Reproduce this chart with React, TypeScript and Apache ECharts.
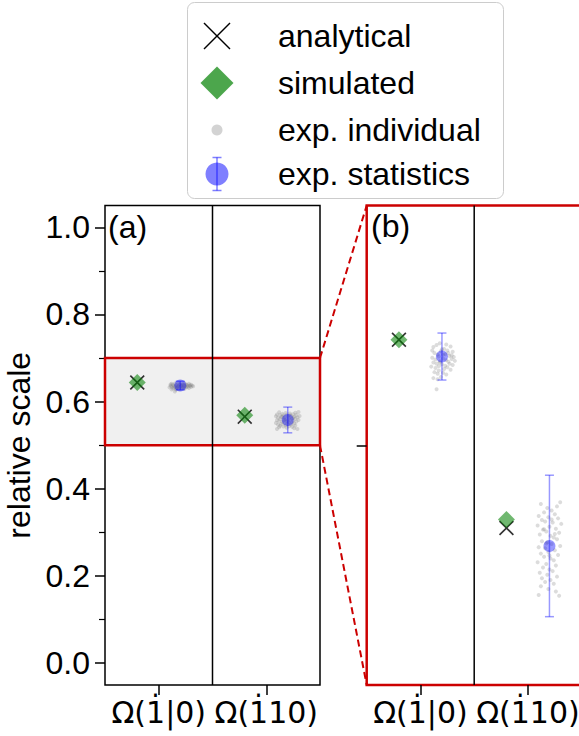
import React, { useEffect, useRef } from "react";
import * as echarts from "echarts";

// ---------- data ----------
const categories = ["\u03A9(1\u0307|0)", "\u03A9(1\u030710)"];
const categoryPos = [0, 1];
const markerOffset = 0.2;
const analytical = [0.644, 0.5655];
const simulated = [0.644, 0.569];
const statMean = [0.637, 0.558];
const statErr = [0.0098, 0.0295];
const yTicks = [0, 0.2, 0.4, 0.6, 0.8, 1.0];
const yMinorTicks = [0.1, 0.3, 0.5, 0.7, 0.9];
const fullRange = [-0.05, 1.05];
const zoomRange = [0.5, 0.7];
const zoomTicks = [0.6];
const xRange = [-0.5, 1.5];

const expIndividualLeft: number[][] = [
  [0.12, 0.641], [0.15, 0.6418], [0.18, 0.6425], [0.22, 0.6402], [0.25, 0.6395],
  [0.28, 0.6412], [0.30, 0.639], [0.13, 0.6385], [0.16, 0.6378], [0.19, 0.6392],
  [0.23, 0.638], [0.27, 0.6372], [0.31, 0.6368], [0.11, 0.6365], [0.14, 0.6358],
  [0.17, 0.637], [0.21, 0.6362], [0.24, 0.6355], [0.26, 0.6348], [0.29, 0.636],
  [0.32, 0.6352], [0.12, 0.6345], [0.15, 0.634], [0.18, 0.635], [0.20, 0.6338],
  [0.23, 0.6332], [0.27, 0.634], [0.30, 0.6335], [0.10, 0.6328], [0.14, 0.6322],
  [0.17, 0.633], [0.22, 0.6318], [0.25, 0.6325], [0.28, 0.6315], [0.13, 0.6305],
  [0.16, 0.6298], [0.21, 0.6302], [0.24, 0.6295], [0.19, 0.6285], [0.12, 0.628],
  [0.16, 0.6275], [0.15, 0.6234], [0.20, 0.64], [0.26, 0.6385], [0.18, 0.6345],
  [0.29, 0.6375], [0.11, 0.6395], [0.24, 0.642], [0.21, 0.6378], [0.17, 0.6312],
];
const expIndividualRight: number[][] = [
  [1.12, 0.5755], [1.30, 0.5762], [1.27, 0.5745], [1.18, 0.5738], [1.22, 0.5728],
  [1.15, 0.572], [1.25, 0.5712], [1.10, 0.5705], [1.19, 0.57], [1.28, 0.5695],
  [1.13, 0.5688], [1.16, 0.5682], [1.23, 0.5678], [1.31, 0.5672], [1.09, 0.5665],
  [1.20, 0.566], [1.26, 0.5652], [1.14, 0.5648], [1.17, 0.564], [1.29, 0.5635],
  [1.11, 0.5628], [1.21, 0.5622], [1.24, 0.5615], [1.27, 0.5608], [1.13, 0.56],
  [1.18, 0.5595], [1.22, 0.5588], [1.30, 0.558], [1.10, 0.5575], [1.16, 0.557],
  [1.25, 0.5562], [1.19, 0.5555], [1.12, 0.5548], [1.28, 0.5542], [1.15, 0.5535],
  [1.21, 0.5528], [1.24, 0.552], [1.09, 0.5512], [1.17, 0.5505], [1.26, 0.5498],
  [1.14, 0.549], [1.20, 0.5482], [1.23, 0.5475], [1.11, 0.5468], [1.18, 0.546],
  [1.27, 0.5452], [1.13, 0.5445], [1.21, 0.5438], [1.16, 0.543], [1.24, 0.5422],
  [1.12, 0.5412], [1.19, 0.54], [1.26, 0.539], [1.10, 0.5375], [1.29, 0.5372],
  [1.15, 0.565], [1.22, 0.569], [1.17, 0.559], [1.25, 0.563], [1.20, 0.554],
];

// ---------- styles ----------
const RED = "#cc0000";
const SANS = "Liberation Sans, Arial, sans-serif";
const XPATH =
  "path://M0,7.8L7.8,0L50,42.2L92.2,0L100,7.8L57.8,50L100,92.2L92.2,100L50,57.8L7.8,100L0,92.2L42.2,50Z";

export default function App() {
  const ref = useRef<HTMLDivElement>(null);
  useEffect(() => {
    document.body.style.margin = "0";
    const chart = echarts.init(ref.current!, undefined, { renderer: "svg" });

    const xAxisBase = (gi: number) => ({
      type: "value",
      gridIndex: gi,
      position: "bottom",
      min: xRange[0],
      max: xRange[1],
      axisLine: { show: false, onZero: false },
      splitLine: { show: false },
      axisTick: {
        show: true,
        customValues: categoryPos,
        length: 10,
        lineStyle: { color: "#000", width: 1.5 },
      },
      axisLabel: {
        customValues: categoryPos,
        formatter: (v: number) => categories[Math.round(v)],
        fontSize: 30,
        fontFamily: "DejaVu Sans",
        color: "#000",
        margin: 12,
      },
    });

    const seriesFor = (gi: number, yi: number, yr: number[]) => {
      const common = { xAxisIndex: gi, yAxisIndex: yi };
      const list: any[] = [];
      list.push({
        ...common,
        type: "line",
        data: [
          [0.5, yr[0]],
          [0.5, yr[1]],
        ],
        symbol: "none",
        lineStyle: { color: "#000", width: 1.5 },
        z: 2,
        silent: true,
      });
      list.push({
        ...common,
        name: "exp. individual",
        type: "scatter",
        data: [...expIndividualLeft, ...expIndividualRight],
        symbolSize: 4,
        itemStyle: { color: "rgba(128,128,128,0.35)" },
        z: 3,
      });
      list.push({
        ...common,
        type: "custom",
        data: categoryPos.map((c, i) => [c + markerOffset, statMean[i] - statErr[i], statMean[i] + statErr[i]]),
        encode: { x: 0, y: [1, 2] },
        z: 4,
        renderItem: (_p: any, api: any) => {
          const x = api.value(0);
          const p1 = api.coord([x, api.value(1)]);
          const p2 = api.coord([x, api.value(2)]);
          const cw = 4.5;
          const style = { stroke: "rgba(0,0,255,0.4)", lineWidth: 1.5 };
          return {
            type: "group",
            children: [
              { type: "line", shape: { x1: p1[0], y1: p1[1], x2: p2[0], y2: p2[1] }, style },
              { type: "line", shape: { x1: p1[0] - cw, y1: p1[1], x2: p1[0] + cw, y2: p1[1] }, style },
              { type: "line", shape: { x1: p2[0] - cw, y1: p2[1], x2: p2[0] + cw, y2: p2[1] }, style },
            ],
          };
        },
      });
      list.push({
        ...common,
        name: "exp. statistics",
        type: "scatter",
        data: categoryPos.map((c, i) => [c + markerOffset, statMean[i]]),
        symbolSize: 12,
        itemStyle: { color: "rgba(0,0,255,0.5)" },
        z: 5,
      });
      list.push({
        ...common,
        name: "analytical",
        type: "scatter",
        data: categoryPos.map((c, i) => [c - markerOffset, analytical[i]]),
        symbol: XPATH,
        symbolSize: 15,
        itemStyle: { color: "#000" },
        z: 6,
      });
      list.push({
        ...common,
        name: "simulated",
        type: "scatter",
        data: categoryPos.map((c, i) => [c - markerOffset, simulated[i]]),
        symbol: "diamond",
        symbolSize: [17, 17],
        itemStyle: { color: "rgba(0,128,0,0.7)" },
        z: 7,
      });
      return list;
    };

    const yAxisCommon = {
      type: "value",
      position: "left",
      axisLine: { show: false, onZero: false },
      splitLine: { show: false },
    };

    const option: any = {
      animation: false,
      grid: [
        {
          left: 105, top: 205.5, width: 215, height: 479.5,
          show: true, borderColor: "#000", borderWidth: 1.5,
          containLabel: false, outerBoundsMode: "none",
        },
        {
          left: 366.7, top: 205.5, width: 215, height: 479.5,
          show: true, borderColor: RED, borderWidth: 2.5,
          containLabel: false, outerBoundsMode: "none",
        },
      ],
      xAxis: [xAxisBase(0), xAxisBase(1)],
      yAxis: [
        {
          ...yAxisCommon,
          gridIndex: 0,
          min: fullRange[0],
          max: fullRange[1],
          axisTick: { show: true, customValues: yTicks, length: 10, lineStyle: { color: "#000", width: 1.5 } },
          axisLabel: {
            customValues: yTicks,
            formatter: (v: number) => v.toFixed(1),
            fontSize: 32,
            fontFamily: SANS,
            color: "#000",
            margin: 15,
          },
          name: "relative scale",
          nameLocation: "middle",
          nameGap: 70,
          nameTextStyle: { fontSize: 32, fontFamily: SANS, color: "#000" },
        },
        {
          ...yAxisCommon,
          gridIndex: 0,
          offset: 0,
          min: fullRange[0],
          max: fullRange[1],
          axisTick: { show: true, customValues: yMinorTicks, length: 6, lineStyle: { color: "#000", width: 1.2 } },
          axisLabel: { show: false },
        },
        {
          ...yAxisCommon,
          gridIndex: 1,
          min: zoomRange[0],
          max: zoomRange[1],
          axisTick: { show: true, customValues: zoomTicks, length: 10, lineStyle: { color: "#000", width: 1.5 } },
          axisLabel: { show: false },
        },
      ],
      series: [
        {
          type: "custom",
          xAxisIndex: 0,
          yAxisIndex: 0,
          data: [[xRange[0], zoomRange[0], xRange[1], zoomRange[1]]],
          encode: { x: [0, 2], y: [1, 3] },
          z: 1,
          silent: true,
          renderItem: (_p: any, api: any) => {
            const a = api.coord([api.value(0), api.value(3)]);
            const b = api.coord([api.value(2), api.value(1)]);
            return {
              type: "rect",
              shape: { x: a[0], y: a[1], width: b[0] - a[0], height: b[1] - a[1] },
              style: { fill: "#f0f0f0", stroke: RED, lineWidth: 2.5 },
            };
          },
        },
        ...seriesFor(0, 0, fullRange),
        ...seriesFor(1, 2, zoomRange),
      ],
    };
    chart.setOption(option);

    const aTop = chart.convertToPixel({ gridIndex: 0 }, [xRange[1], zoomRange[1]]) as number[];
    const aBot = chart.convertToPixel({ gridIndex: 0 }, [xRange[1], zoomRange[0]]) as number[];
    const bTop = chart.convertToPixel({ gridIndex: 1 }, [xRange[0], zoomRange[1]]) as number[];
    const bBot = chart.convertToPixel({ gridIndex: 1 }, [xRange[0], zoomRange[0]]) as number[];

    const dash = { stroke: RED, lineWidth: 2, lineDash: [7, 4] };
    const lx = 217;
    const tx = 278;
    const rows = [36, 83, 130, 174];
    const labels = ["analytical", "simulated", "exp. individual", "exp. statistics"];
    const txtStyle = (t: string) => ({ text: t, fontSize: 32, fontFamily: SANS, fill: "#000", verticalAlign: "middle", align: "left" });

    chart.setOption({
      graphic: [
        { type: "line", shape: { x1: aTop[0], y1: aTop[1], x2: bTop[0], y2: bTop[1] }, style: dash, z: 50 },
        { type: "line", shape: { x1: aBot[0], y1: aBot[1], x2: bBot[0], y2: bBot[1] }, style: dash, z: 50 },
        { type: "text", x: 108, y: 227, style: txtStyle("(a)"), z: 50 },
        { type: "text", x: 371, y: 226, style: txtStyle("(b)"), z: 50 },
        {
          type: "rect",
          shape: { x: 187.5, y: 2.5, width: 316, height: 196, r: 7 },
          style: { fill: "rgba(255,255,255,0.9)", stroke: "#cccccc", lineWidth: 1 },
          z: 60,
        },
        { type: "line", shape: { x1: lx - 13, y1: rows[0] - 13, x2: lx + 13, y2: rows[0] + 13 }, style: { stroke: "#000", lineWidth: 1.5 }, z: 61 },
        { type: "line", shape: { x1: lx - 13, y1: rows[0] + 13, x2: lx + 13, y2: rows[0] - 13 }, style: { stroke: "#000", lineWidth: 1.5 }, z: 61 },
        {
          type: "polygon",
          shape: { points: [[lx, rows[1] - 16.5], [lx + 16.5, rows[1]], [lx, rows[1] + 16.5], [lx - 16.5, rows[1]]] },
          style: { fill: "rgba(0,128,0,0.7)" },
          z: 61,
        },
        { type: "circle", shape: { cx: lx, cy: rows[2], r: 5.5 }, style: { fill: "rgba(128,128,128,0.35)" }, z: 61 },
        { type: "line", shape: { x1: lx, y1: rows[3] - 16.5, x2: lx, y2: rows[3] + 16.5 }, style: { stroke: "rgba(0,0,255,0.5)", lineWidth: 1.5 }, z: 61 },
        { type: "line", shape: { x1: lx - 4.5, y1: rows[3] - 16.5, x2: lx + 4.5, y2: rows[3] - 16.5 }, style: { stroke: "rgba(0,0,255,0.5)", lineWidth: 1.5 }, z: 61 },
        { type: "line", shape: { x1: lx - 4.5, y1: rows[3] + 16.5, x2: lx + 4.5, y2: rows[3] + 16.5 }, style: { stroke: "rgba(0,0,255,0.5)", lineWidth: 1.5 }, z: 61 },
        { type: "circle", shape: { cx: lx, cy: rows[3], r: 11.5 }, style: { fill: "rgba(0,0,255,0.5)" }, z: 62 },
        ...labels.map((t, i) => ({ type: "text", x: tx, y: rows[i], style: txtStyle(t), z: 63 })),
      ],
    });

    return () => chart.dispose();
  }, []);
  return <div ref={ref} style={{ width: 579, height: 736 }} />;
}
